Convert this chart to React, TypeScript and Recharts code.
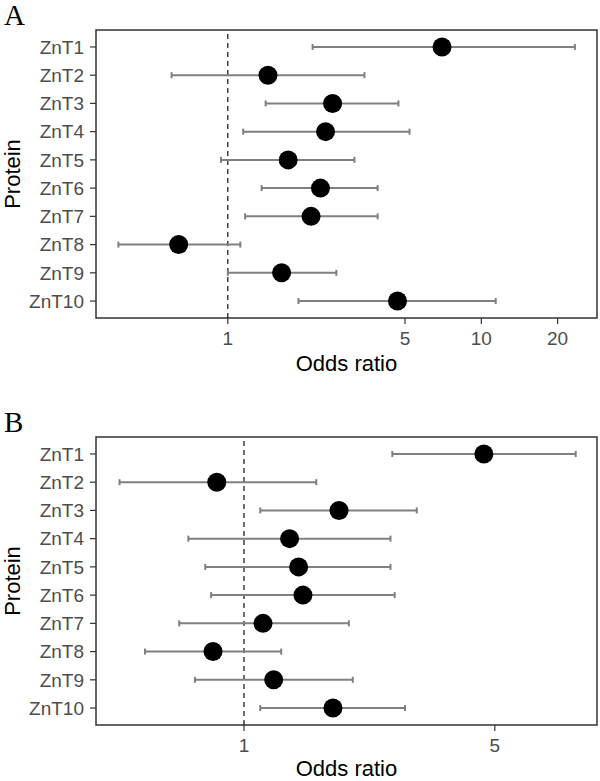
import React from "react";
import {
  ErrorBar,
  ReferenceArea,
  ReferenceLine,
  Scatter,
  ScatterChart,
  XAxis,
  YAxis
} from "recharts";

const proteins = ["ZnT1", "ZnT2", "ZnT3", "ZnT4", "ZnT5", "ZnT6", "ZnT7", "ZnT8", "ZnT9", "ZnT10"];

// panel A
const oddsA = [7.0, 1.44, 2.59, 2.43, 1.73, 2.32, 2.13, 0.64, 1.63, 4.67];
const lowA = [2.16, 0.6, 1.41, 1.15, 0.94, 1.36, 1.17, 0.37, 1.0, 1.9];
const highA = [23.4, 3.46, 4.71, 5.21, 3.16, 3.9, 3.9, 1.12, 2.68, 11.4];
const ticksA = [1, 5, 10, 20];
const domainA: [number, number] = [0.302, 28.6];

// panel B
const oddsB = [4.66, 0.84, 1.84, 1.34, 1.42, 1.46, 1.13, 0.82, 1.21, 1.77];
const lowB = [2.59, 0.45, 1.11, 0.7, 0.78, 0.81, 0.66, 0.53, 0.73, 1.11];
const highB = [8.4, 1.59, 3.03, 2.56, 2.56, 2.63, 1.96, 1.27, 2.01, 2.81];
const ticksB = [1, 5];
const domainB: [number, number] = [0.387, 9.63];

const yTicks = proteins.map((_, i) => i + 1);
const yDomain: [number, number] = [0.4, 10.6];

const sans = "'Liberation Sans', Arial, Helvetica, sans-serif";
const tickStyle = { fill: "#4d4d4d", fontSize: 19, fontFamily: sans };

const buildRows = (odds: number[], low: number[], high: number[]) =>
  odds.map((v, i) => ({
    name: proteins[i],
    pos: i + 1,
    or: v,
    err: [v - low[i], high[i] - v]
  }));

const Dot = (props: any) => {
  const { cx, cy } = props;
  if (cx == null || cy == null) return null;
  return <circle cx={cx} cy={cy} r={9.5} fill="#000000" />;
};

function ForestPanel({
  odds,
  low,
  high,
  ticks,
  domain,
  titleOffset
}: {
  odds: number[];
  low: number[];
  high: number[];
  ticks: number[];
  domain: [number, number];
  titleOffset: number;
}) {
  const rows = buildRows(odds, low, high);
  return (
    <ScatterChart width={600} height={380} margin={{ top: 30, right: 3, bottom: 8, left: 0 }}>
      <XAxis
        type="number"
        dataKey="or"
        scale="log"
        domain={domain}
        allowDataOverflow
        ticks={ticks}
        interval={0}
        axisLine={false}
        tickLine={{ stroke: "#333333", strokeWidth: 1.2 }}
        tickSize={6}
        tickMargin={8}
        tick={tickStyle}
        height={54}
        label={{
          value: "Odds ratio",
          position: "insideBottom",
          offset: titleOffset,
          fill: "#000000",
          fontSize: 22,
          fontFamily: sans
        }}
      />
      <YAxis
        type="number"
        dataKey="pos"
        domain={yDomain}
        reversed
        allowDataOverflow
        ticks={yTicks}
        interval={0}
        width={96}
        axisLine={false}
        tickLine={{ stroke: "#333333", strokeWidth: 1.2 }}
        tickSize={6}
        tickMargin={6}
        tick={tickStyle}
        tickFormatter={(v: number) => proteins[v - 1] ?? ""}
        label={{
          value: "Protein",
          angle: -90,
          position: "insideLeft",
          offset: 12,
          fill: "#000000",
          fontSize: 22,
          fontFamily: sans,
          style: { textAnchor: "middle" }
        }}
      />
      <ReferenceLine x={1} stroke="#111111" strokeWidth={1.2} strokeDasharray="5 4" ifOverflow="visible" />
      <Scatter data={rows} shape={<Dot />} isAnimationActive={false}>
        <ErrorBar
          dataKey="err"
          direction="x"
          width={3}
          stroke="#808080"
          strokeWidth={2}
          isAnimationActive={false}
        />
      </Scatter>
      <ReferenceArea
        x1={domain[0]}
        x2={domain[1]}
        y1={yDomain[0]}
        y2={yDomain[1]}
        fill="none"
        fillOpacity={0}
        stroke="#333333"
        strokeWidth={1.5}
        ifOverflow="visible"
      />
    </ScatterChart>
  );
}

const letterStyle: React.CSSProperties = {
  position: "absolute",
  left: 4,
  fontFamily: "'Liberation Serif', 'Times New Roman', serif",
  fontSize: 29,
  lineHeight: "29px",
  color: "#000000"
};

export default function App() {
  return (
    <div
      style={{
        position: "absolute",
        left: 0,
        top: 0,
        width: 600,
        height: 781,
        overflow: "hidden",
        background: "#ffffff"
      }}
    >
      <div style={{ position: "absolute", left: 0, top: 0 }}>
        <ForestPanel odds={oddsA} low={lowA} high={highA} ticks={ticksA} domain={domainA} titleOffset={1} />
      </div>
      <div style={{ position: "absolute", left: 0, top: 407 }}>
        <ForestPanel odds={oddsB} low={lowB} high={highB} ticks={ticksB} domain={domainB} titleOffset={3} />
      </div>
      <div style={{ ...letterStyle, top: 1 }}>A</div>
      <div style={{ ...letterStyle, top: 408 }}>B</div>
    </div>
  );
}
